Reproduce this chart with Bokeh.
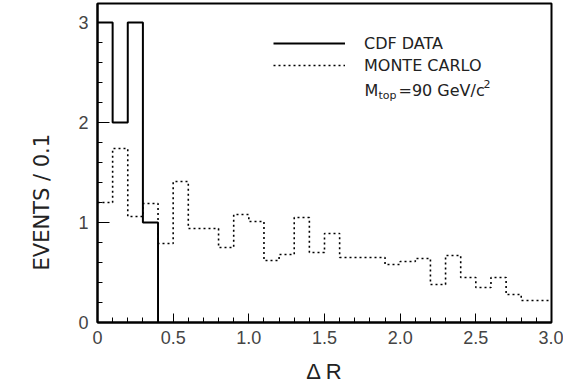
import numpy as np
from bokeh.plotting import figure
from bokeh.models import FixedTicker, Label, Legend, LegendItem, Title
from bokeh.embed import file_html
from bokeh.resources import INLINE

# ---------------- data ----------------
bin_width = 0.1
cdf_counts = [3, 2, 3, 1]
mc_counts = [1.20, 1.74, 1.06, 1.19, 0.79, 1.41, 0.94, 0.94, 0.75, 1.08,
             1.01, 0.62, 0.68, 1.05, 0.70, 0.89, 0.65, 0.65, 0.65, 0.58,
             0.61, 0.64, 0.38, 0.67, 0.45, 0.35, 0.45, 0.28, 0.22, 0.22]
x_major = [0, 0.5, 1.0, 1.5, 2.0, 2.5, 3.0]
x_tick_labels = ["0", "0.5", "1.0", "1.5", "2.0", "2.5", "3.0"]
y_major = [0, 1, 2, 3]
legend_labels = ["CDF DATA", "MONTE CARLO"]
x_title = "Δ R"
y_title = "EVENTS / 0.1"

X_MAX = 3.0
Y_MAX = 3.19

# ---------------- layout (page pixels) ----------------
W, H = 563, 387
FL, FR, FT, FB = 97.0, 551.0, 3.0, 322.0


def px2x(px):
    return (px - FL) / (FR - FL) * X_MAX


def py2y(py):
    return (FB - py) / (FB - FT) * Y_MAX


p = figure(width=W, height=H, x_range=(0, X_MAX), y_range=(0, Y_MAX),
           output_backend="svg", toolbar_location=None,
           min_border_left=int(FL), min_border_right=int(W - FR),
           min_border_top=int(FT), min_border_bottom=int(H - FB))
p.xgrid.visible = False
p.ygrid.visible = False
p.outline_line_color = "black"
p.outline_line_width = 2
p.outline_line_alpha = 1.0
p.background_fill_color = "white"
p.border_fill_color = "white"

# histograms
mc_edges = np.arange(len(mc_counts) + 1) * bin_width
mc_y = list(mc_counts) + [mc_counts[-1]]
cdf_edges = np.arange(len(cdf_counts) + 1) * bin_width
cdf_y = list(cdf_counts) + [0]

mc_r = p.step(mc_edges, mc_y, mode="after", line_color="black",
              line_width=1.6, line_dash="2 3")
cdf_r = p.step(cdf_edges, cdf_y, mode="after", line_color="black",
               line_width=2)

# axes
minor_x = [round(v, 1) for v in np.arange(1, 30) * 0.1 if round(v * 10) % 5 != 0]
minor_y = [round(v, 1) for v in np.arange(1, 15) * 0.2 if round(v * 5) % 5 != 0]
p.xaxis.ticker = FixedTicker(ticks=x_major, minor_ticks=minor_x)
p.yaxis.ticker = FixedTicker(ticks=y_major, minor_ticks=minor_y)
p.xaxis.major_label_overrides = {t: s for t, s in zip(x_major, x_tick_labels)}

for ax in (p.xaxis, p.yaxis):
    ax.axis_line_width = 2
    ax.axis_line_color = "black"
    ax.major_tick_out = 0
    ax.minor_tick_out = 0
    ax.minor_tick_in = 5
    ax.major_tick_line_color = "black"
    ax.minor_tick_line_color = "black"
    ax.major_tick_line_width = 1
    ax.minor_tick_line_width = 1
    ax.major_label_text_font = "Liberation Sans"
    ax.major_label_text_font_size = "18px"
    ax.major_label_text_color = "#444444"
p.xaxis.major_tick_in = 9
p.yaxis.major_tick_in = 12
p.xaxis.major_label_standoff = 8
p.yaxis.major_label_standoff = 9

p.xaxis.axis_label = x_title
p.xaxis.axis_label_text_font = "Liberation Sans"
p.xaxis.axis_label_text_font_size = "22px"
p.xaxis.axis_label_text_font_style = "normal"
p.xaxis.axis_label_text_color = "#222222"
p.xaxis.axis_label_standoff = 12

# y-axis title as a left-side title (reads bottom to top)
p.add_layout(Title(text=y_title, align="left", offset=int(FB - 270),
                   standoff=43, text_font="DejaVu Sans", text_font_size="21px",
                   text_font_style="normal", text_color="#222222"), "left")

# legend
legend = Legend(items=[LegendItem(label=legend_labels[0], renderers=[cdf_r]),
                       LegendItem(label=legend_labels[1], renderers=[mc_r])],
                location=(273 - FL, FB - 76), padding=0, margin=0, spacing=0,
                glyph_width=72, glyph_height=22, label_height=22,
                label_standoff=19, label_text_font="DejaVu Sans",
                label_text_font_size="16px", label_text_color="#222222",
                background_fill_alpha=0, border_line_alpha=0)
p.add_layout(legend)

# M_top = 90 GeV/c^2
lab_kw = dict(text_baseline="alphabetic", text_align="left",
              text_font="DejaVu Sans", text_color="#222222")
p.add_layout(Label(x=px2x(364), y=py2y(90), text="M", text_font_size="16px", **lab_kw))
p.add_layout(Label(x=px2x(378), y=py2y(95), text="top", text_font_size="11px", **lab_kw))
p.add_layout(Label(x=px2x(398), y=py2y(90), text="=90 GeV/c", text_font_size="16px", **lab_kw))
p.add_layout(Label(x=px2x(483), y=py2y(83), text="2", text_font_size="11px", **lab_kw))

open("out.html", "w").write(file_html(p, INLINE))
